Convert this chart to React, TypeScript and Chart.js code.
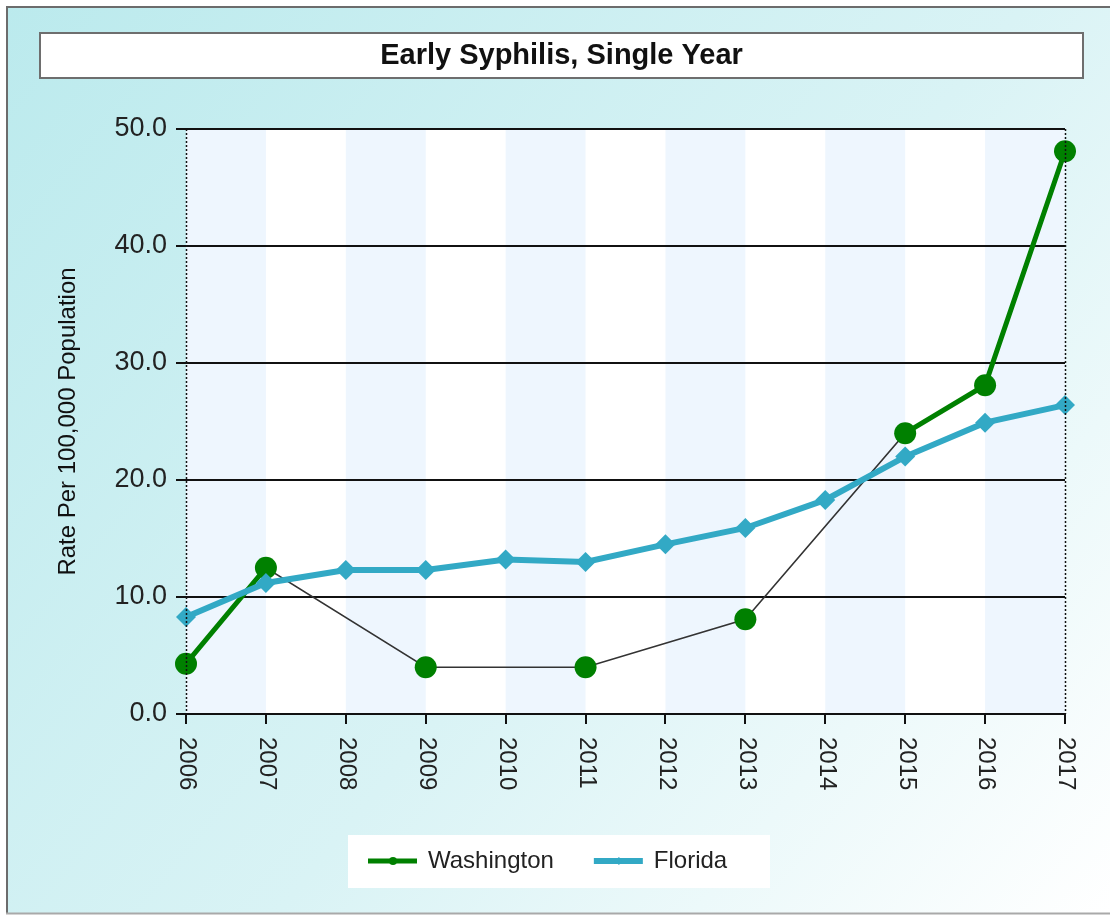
import React, { useEffect, useRef } from "react";
import { Chart, registerables } from "chart.js";

Chart.register(...registerables);

// ---- data ----
const years = ["2006", "2007", "2008", "2009", "2010", "2011", "2012", "2013", "2014", "2015", "2016", "2017"];
const washington: (number | null)[] = [4.3, 12.5, null, 4.0, null, 4.0, null, 8.1, null, 24.0, 28.1, 48.1];
const florida: number[] = [8.3, 11.2, 12.3, 12.3, 13.2, 13.0, 14.5, 15.9, 18.3, 22.0, 24.9, 26.4];
const yTicks = [0, 10, 20, 30, 40, 50];
const seriesNames = ["Washington", "Florida"];
const seriesColors = ["#008000", "#32a9c5"];
const chartTitle = "Early Syphilis, Single Year";
const yAxisTitle = "Rate Per 100,000 Population";

const FONT = '"Liberation Sans", Arial, sans-serif';
const W = 1110;
const H = 915;

export default function App() {
  const ref = useRef<HTMLCanvasElement>(null);

  useEffect(() => {
    const canvas = ref.current;
    if (!canvas) return;

    const decor = {
      id: "decor",
      beforeDraw(chart: any) {
        const { ctx, chartArea: a, scales } = chart;
        ctx.save();
        ctx.fillStyle = "#ffffff";
        ctx.fillRect(0, 0, W, H);
        const g = ctx.createLinearGradient(6, 6, W, H);
        g.addColorStop(0, "#bbeaed");
        g.addColorStop(0.55, "#d9f3f5");
        g.addColorStop(1, "#ffffff");
        ctx.fillStyle = g;
        ctx.fillRect(6, 6, W - 6, H - 8);
        // frame
        ctx.strokeStyle = "#6c6c6c";
        ctx.lineWidth = 2;
        ctx.beginPath();
        ctx.moveTo(7, H - 2);
        ctx.lineTo(7, 7);
        ctx.lineTo(W, 7);
        ctx.stroke();
        ctx.strokeStyle = "#a9a9a9";
        ctx.beginPath();
        ctx.moveTo(6, H - 1.5);
        ctx.lineTo(W, H - 1.5);
        ctx.stroke();

        // title box
        ctx.fillStyle = "#ffffff";
        ctx.fillRect(40, 33, 1043, 45);
        ctx.strokeStyle = "#6e6e6e";
        ctx.lineWidth = 2;
        ctx.strokeRect(40, 33, 1043, 45);
        ctx.fillStyle = "#111111";
        ctx.font = `bold 29px ${FONT}`;
        ctx.textAlign = "center";
        ctx.textBaseline = "middle";
        ctx.fillText(chartTitle, 561.5, 56);

        // plot background + stripes
        ctx.fillStyle = "#ffffff";
        ctx.fillRect(a.left, a.top, a.right - a.left, a.bottom - a.top);
        const xs = scales.x;
        ctx.fillStyle = "#eef6fe";
        for (let i = 0; i < years.length - 1; i += 2) {
          const x0 = xs.getPixelForValue(i);
          const x1 = xs.getPixelForValue(i + 1);
          ctx.fillRect(x0, a.top, x1 - x0, a.bottom - a.top);
        }
        ctx.restore();
      },
      afterDatasetsDraw(chart: any) {
        const { ctx, chartArea: a } = chart;
        ctx.save();
        ctx.strokeStyle = "#111111";
        ctx.lineWidth = 1.5;
        ctx.setLineDash([2, 2]);
        [a.left, a.right].forEach((x: number) => {
          ctx.beginPath();
          ctx.moveTo(Math.round(x) + 0.5, a.top);
          ctx.lineTo(Math.round(x) + 0.5, a.bottom);
          ctx.stroke();
        });
        ctx.restore();
      },
      afterDraw(chart: any) {
        const { ctx, chartArea: a, scales } = chart;
        ctx.save();
        // rotated x labels (reading top to bottom)
        const xs = scales.x;
        ctx.fillStyle = "#222222";
        ctx.font = `24px ${FONT}`;
        ctx.textAlign = "left";
        ctx.textBaseline = "middle";
        years.forEach((lab, i) => {
          const px = xs.getPixelForValue(i);
          ctx.save();
          ctx.translate(px + 1, a.bottom + 23);
          ctx.rotate(Math.PI / 2);
          ctx.fillText(lab, 0, 0);
          ctx.restore();
        });

        // legend
        const bx = 348, by = 835, bw = 422, bh = 53;
        ctx.fillStyle = "#ffffff";
        ctx.fillRect(bx, by, bw, bh);
        const cy = by + 26;
        ctx.font = `24px ${FONT}`;
        ctx.textBaseline = "middle";
        let x = bx + 20;
        seriesNames.forEach((name, i) => {
          const col = seriesColors[i];
          ctx.strokeStyle = col;
          ctx.lineWidth = i === 0 ? 5 : 6;
          ctx.beginPath();
          ctx.moveTo(x, cy);
          ctx.lineTo(x + 49, cy);
          ctx.stroke();
          ctx.fillStyle = col;
          const mx = x + 25;
          if (i === 0) {
            ctx.beginPath();
            ctx.arc(mx, cy, 4, 0, Math.PI * 2);
            ctx.fill();
          } else {
            ctx.beginPath();
            ctx.moveTo(mx, cy - 4);
            ctx.lineTo(mx + 4, cy);
            ctx.lineTo(mx, cy + 4);
            ctx.lineTo(mx - 4, cy);
            ctx.closePath();
            ctx.fill();
          }
          ctx.fillStyle = "#222222";
          ctx.textAlign = "left";
          ctx.fillText(name, x + 60, cy);
          x = x + 60 + ctx.measureText(name).width + 40;
        });
        ctx.restore();
      },
    };

    const chart = new Chart(canvas, {
      type: "line",
      data: {
        labels: years,
        datasets: [
          {
            label: seriesNames[1],
            data: florida,
            borderColor: seriesColors[1],
            backgroundColor: seriesColors[1],
            borderWidth: 6,
            pointStyle: "rectRot",
            pointRadius: 10,
            pointBorderWidth: 0,
            tension: 0,
          },
          {
            label: seriesNames[0],
            data: washington,
            borderColor: seriesColors[0],
            backgroundColor: seriesColors[0],
            borderWidth: 5,
            pointStyle: "circle",
            pointRadius: 11,
            pointBorderWidth: 0,
            spanGaps: false,
            tension: 0,
          },
          {
            label: "connector",
            data: washington,
            borderColor: "#333333",
            borderWidth: 1.5,
            pointRadius: 0,
            spanGaps: true,
            tension: 0,
          },
        ],
      },
      options: {
        responsive: false,
        animation: false,
        devicePixelRatio: 1,
        layout: { padding: { top: 129, right: 45, bottom: 0, left: 0 } },
        plugins: {
          legend: { display: false },
          title: { display: false },
          tooltip: { enabled: false },
        },
        scales: {
          x: {
            type: "category",
            offset: false,
            ticks: { display: false },
            grid: { drawOnChartArea: false, drawTicks: true, tickLength: 10, color: "#111111", lineWidth: 2 },
            border: { display: true, color: "#111111", width: 2 },
            afterFit: (s: any) => {
              s.height = 201;
            },
          },
          y: {
            min: 0,
            max: 50,
            afterBuildTicks: (s: any) => {
              s.ticks = yTicks.map((v) => ({ value: v }));
            },
            ticks: {
              callback: (v: any) => Number(v).toFixed(1),
              font: { size: 27, family: FONT },
              color: "#222222",
              padding: 9,
            },
            grid: { color: "#111111", lineWidth: 2, tickLength: 10, drawTicks: true },
            border: { display: false },
            title: {
              display: true,
              text: yAxisTitle,
              font: { size: 24, family: FONT },
              color: "#111111",
              padding: { top: 54, bottom: 0 },
            },
            afterFit: (s: any) => {
              s.width = 186;
            },
          },
        },
      },
      plugins: [decor],
    });

    return () => chart.destroy();
  }, []);

  return (
    <div style={{ position: "fixed", left: 0, top: 0, width: W, height: H }}>
      <canvas ref={ref} width={W} height={H} style={{ display: "block", width: W, height: H }} />
    </div>
  );
}
